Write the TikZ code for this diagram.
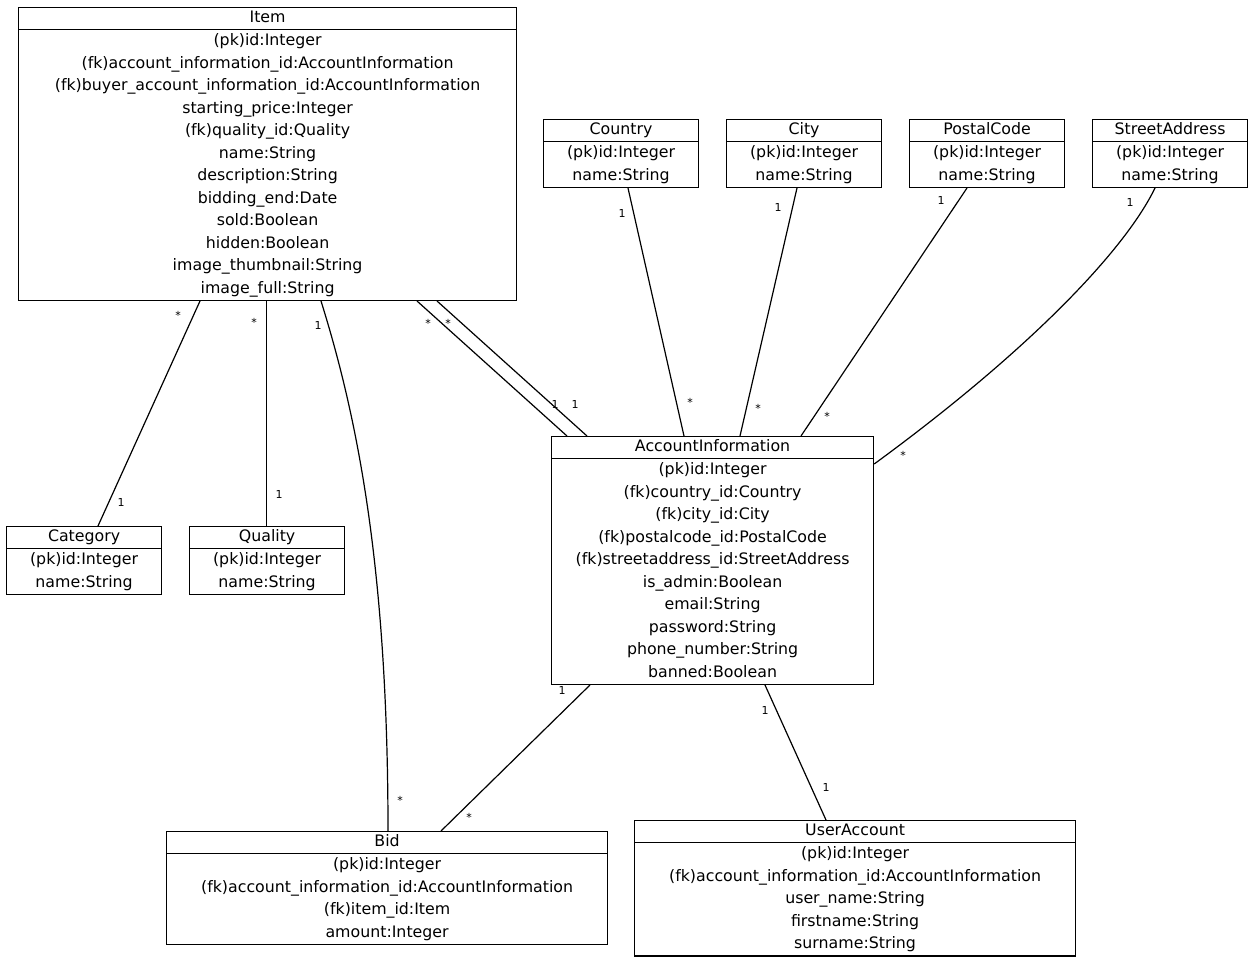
\documentclass[tikz,border=0pt]{standalone}
\usepackage{fontspec}
\setmainfont{DejaVu Sans}
\usetikzlibrary{shapes.multipart}
\newcommand\hstrut{\rule[-3.1pt]{0pt}{10.2pt}}

\begin{document}
\begin{tikzpicture}[x=0.5pt,y=-0.5pt,
  cls/.style={draw,line width=0.6pt,rectangle split,rectangle split parts=2,
    inner xsep=0pt,inner ysep=0pt,align=center,anchor=north west,
    font=\fontsize{7.9}{11.25}\selectfont},
  small/.style={cls,text width=77.5pt},
  wide/.style={cls,text width=220.5pt},
  rel/.style={line width=0.6pt},
  lab/.style={font=\fontsize{5.5}{6}\selectfont,inner sep=0.5pt}]
  \useasboundingbox (0,0) rectangle (1254,963);
  % classes
  \node[cls,text width=249pt] (Item) at (18,7) {\hstrut Item
    \nodepart{two}\strut(pk)id:Integer\\
    (fk)account\_information\_id:AccountInformation\\
    (fk)buyer\_account\_information\_id:AccountInformation\\
    starting\_price:Integer\\
    (fk)quality\_id:Quality\\
    name:String\\
    description:String\\
    bidding\_end:Date\\
    sold:Boolean\\
    hidden:Boolean\\
    image\_thumbnail:String\\
    image\_full:String\strut};
  \node[small] (Country) at (543,119) {\hstrut Country
    \nodepart{two}\strut(pk)id:Integer\\ name:String\strut};
  \node[small] (City) at (726,119) {\hstrut City
    \nodepart{two}\strut(pk)id:Integer\\ name:String\strut};
  \node[small] (PostalCode) at (909,119) {\hstrut PostalCode
    \nodepart{two}\strut(pk)id:Integer\\ name:String\strut};
  \node[small] (StreetAddr) at (1092,119) {\hstrut StreetAddress
    \nodepart{two}\strut(pk)id:Integer\\ name:String\strut};
  \node[cls,text width=161pt] (AccInfo) at (551,436) {\hstrut AccountInformation
    \nodepart{two}\strut(pk)id:Integer\\
    (fk)country\_id:Country\\
    (fk)city\_id:City\\
    (fk)postalcode\_id:PostalCode\\
    (fk)streetaddress\_id:StreetAddress\\
    is\_admin:Boolean\\
    email:String\\
    password:String\\
    phone\_number:String\\
    banned:Boolean\strut};
  \node[small] (Category) at (6,526) {\hstrut Category
    \nodepart{two}\strut(pk)id:Integer\\ name:String\strut};
  \node[small] (Quality) at (189,526) {\hstrut Quality
    \nodepart{two}\strut(pk)id:Integer\\ name:String\strut};
  \node[wide] (Bid) at (166,831) {\hstrut Bid
    \nodepart{two}\strut(pk)id:Integer\\
    (fk)account\_information\_id:AccountInformation\\
    (fk)item\_id:Item\\
    amount:Integer\strut};
  \node[wide] (UserAcc) at (634,820) {\hstrut UserAccount
    \nodepart{two}\strut(pk)id:Integer\\
    (fk)account\_information\_id:AccountInformation\\
    user\_name:String\\
    firstname:String\\
    surname:String\strut};
  % associations
  \draw[rel] (Item.south -| 200,0) -- (Category.north -| 98,0);
  \draw[rel] (Item.south -| 266.4,0) -- (Quality.north -| 266.4,0);
  \draw[rel] (Item.south -| 321,0) .. controls (355,410) and (388,560) .. (Bid.north -| 388,0);
  \draw[rel] (Item.south -| 417,0) -- (AccInfo.north -| 567,0);
  \draw[rel] (Item.south -| 437,0) -- (AccInfo.north -| 587,0);
  \draw[rel] (Country.south -| 628,0) -- (AccInfo.north -| 684,0);
  \draw[rel] (City.south -| 797,0) -- (AccInfo.north -| 740,0);
  \draw[rel] (PostalCode.south -| 967,0) -- (AccInfo.north -| 801,0);
  \draw[rel] (StreetAddr.south -| 1155,0) .. controls (1125,250) and (1030,350) .. (AccInfo.east |- 0,464);
  \draw[rel] (AccInfo.south -| 590,0) -- (Bid.north -| 441,0);
  \draw[rel] (AccInfo.south -| 765,0) -- (UserAcc.north -| 826,0);
  % multiplicities
  \foreach \x/\y/\t [count=\i] in {178/315/*,121/502/1,254/322/*,279/494/1,
      318/325/1,400/800/*,428/323/*,555/404/1,448/323/*,575/404/1,
      622/213/1,690/402/*,778/207/1,758/408/*,941/200/1,827/416/*,
      1130/202/1,903/455/*,562/690/1,469/817/*,765/710/1,826/787/1}
    \node[lab] (m\i) at (\x,\y) {\t};
\end{tikzpicture}
\end{document}
